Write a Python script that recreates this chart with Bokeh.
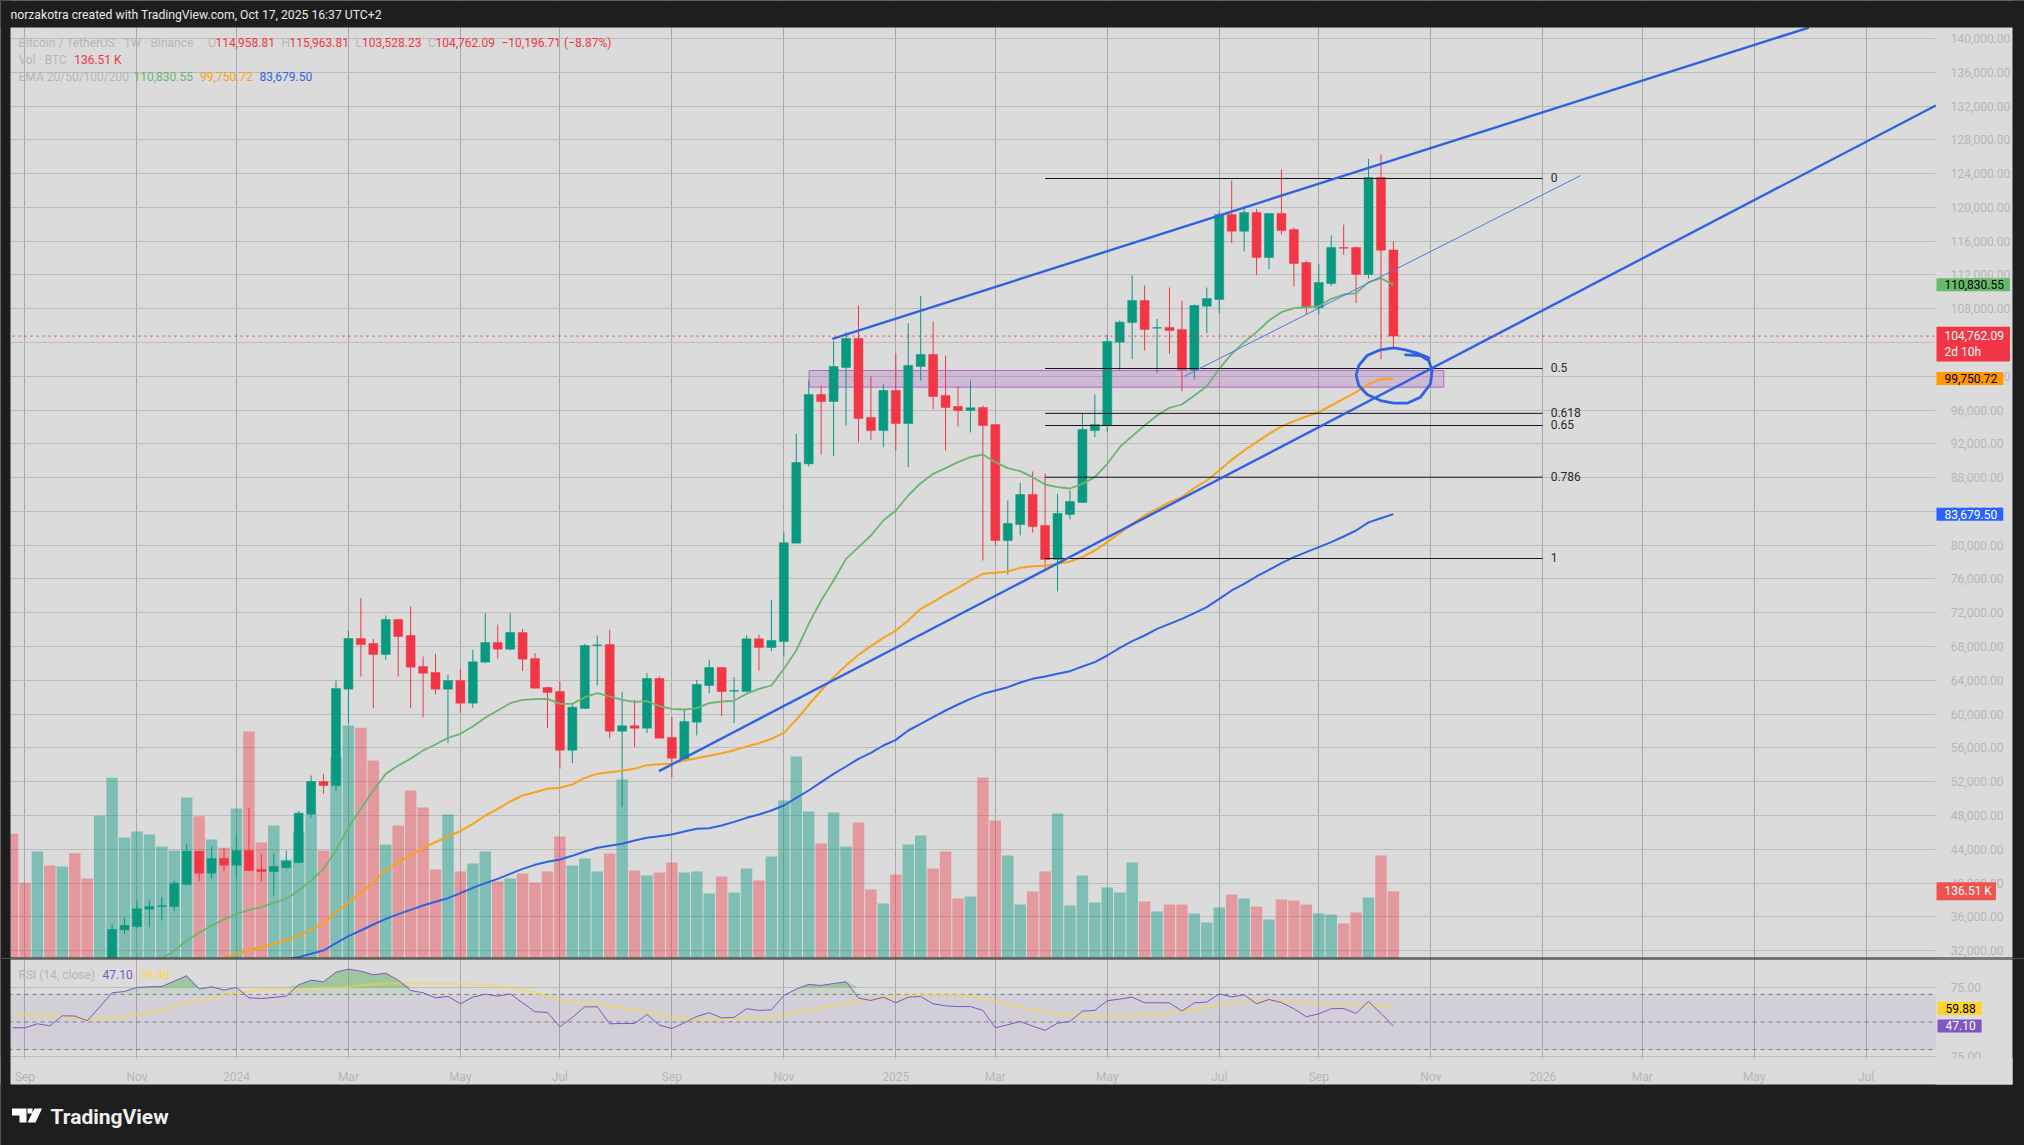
import numpy as np
from bokeh.core.properties import value
from bokeh.embed import file_html
from bokeh.layouts import column
from bokeh.models import (BoxAnnotation, FixedTicker, GlobalInlineStyleSheet, Label,
                          NumeralTickFormatter, PolyAnnotation, Range1d)
from bokeh.plotting import figure
from bokeh.resources import INLINE

# candles, bar index 8..111 (earlier bars are below the visible price range)
OPEN = [30000,34457,34852,36904,37220,37220,39825,43772,41167,42904,42114,43851,41601,41364,41838,42430,48114,52021,51548,62955,
        68954,68362,67059,71204,69309,65639,64928,62955,63981,61297,66152,68480,67691,69664,66586,63152,62678,55732,60665,68125,
        68244,57981,58613,58337,64218,57231,54705,59047,63389,65521,62718,62679,68915,67889,68599,80243,89637,97846,97018,101044,
        104477,95123,93584,98320,94413,101162,102583,97728,96426,95952,96307,94294,80559,82453,86005,82335,78309,83637,85058,93584,
        94176,104043,106371,108976,105700,105779,105543,100767,108305,109095,119160,117186,119396,114068,119278,117384,113476,108148,110989,115252,
        115252,112055,123541,114958.81]
HIGH = [35168,35878,37931,37931,38325,40220,44640,43772,44325,44167,45746,48903,43456,43456,43851,48509,52732,52929,63981,69901,
        73730,68915,71677,71204,72743,66823,67138,64691,65362,67612,71954,70612,71954,70099,67217,63270,63902,61139,68322,69309,
        69980,62639,61692,64849,64454,59639,60507,64060,66428,65521,64376,69310,69389,73533,81466,93189,99504,98912,104162,105227,
        108385,99978,99031,102741,106293,109500,106490,102464,98794,99504,96544,94294,85295,87387,88729,88492,86084,86479,95676,97846,
        104951,106608,111937,110753,106806,110516,108976,108503,110516,119515,123186,120146,119831,119278,124488,117620,113713,113319,116673,117976,
        115370,125751,126264,115963.81]
LOW = [29500,33984,34655,34773,35562,36668,39707,40220,40496,41404,40693,41404,40220,38523,41680,42351,47719,50561,50956,58929,
       64454,60705,66428,64454,60705,59639,62323,56560,60192,60744,66033,66586,67533,65086,63034,58337,53521,54192,60626,63389,
       57152,48982,56087,57745,57152,52534,54587,57469,62481,59758,58929,62600,65165,67455,66823,80243,89321,90742,90545,94176,
       92163,92479,91610,91215,89242,99504,96149,91215,94057,93347,78190,79967,76533,81151,81506,77204,74520,83045,85058,92794,
       93347,100688,102030,103056,100372,102661,98241,99661,105108,107477,115765,114778,111976,112687,116791,110674,107319,107319,110674,114423,
       108661,111581,102030,103528.23]
CLOSE = [34497,34970,36944,37220,37299,39983,43772,41167,42904,42114,43851,41483,41364,41957,42588,48272,52021,51548,63034,68954,
         68244,67059,71204,69191,65560,64849,62955,63981,61297,66191,68480,67691,69664,66507,63073,62560,55732,60823,68125,68204,
         57981,58613,58337,64218,57152,54784,59126,63508,65521,62679,62797,68915,67889,68718,80282,89795,97846,97018,101162,104477,
         95005,93584,98320,94413,101280,102583,97610,96307,95952,96268,94176,80559,82572,86005,82216,78309,83756,85177,93702,94294,
         104122,106411,108976,105543,105779,105424,100806,108384,109213,119160,117186,119396,114068,119278,117265,113358,108148,111108,115252,115173,
         112055,123541,114936,104762.09]

# volume in thousands of BTC, bar index 0..111
VOLUME = [252.8,153.4,217,188.6,186.6,213.6,162.2,289.3,366.4,245.4,257.6,251.5,227.1,219,326.5,288.7,241.3,224.4,304.2,460.4,
          235.2,269.7,200.1,257.6,290,219,408.3,472.5,467.8,401.5,231.2,269.7,340.7,306.2,180.5,292,176.4,192.7,217,156.1,
          162.2,172.4,154.1,176.4,247.4,188.6,202.8,176.4,212.9,363,178.5,168.3,174.4,194.7,174.4,176.4,131.8,166.3,133.8,182.5,
          158.2,206.8,320.4,409.7,298.1,233.2,296.1,227.1,275.8,139.9,111.5,170.3,231.2,249.4,182.5,217,121.7,125.7,367.1,279.9,
          208.9,109.5,135.9,176.4,294,107.5,168.3,113.6,144,133.8,194.7,115.6,95.3,109.5,109.5,91.3,73,103.4,129.8,121.7,
          105.4,79.1,119.6,117.6,109.5,91.3,89.2,71,93.3,123.7,208.9,136.51]
EARLY_VOLUME_UP = [0,0,1,0,1,0,0,1]  # direction of bars 0..7, whose candles are off the scale

# moving averages, each ending at bar 111
EMA20 = [31023,32000,33195,34100,34970,35700,36352,36800,37141,37650,38128,39100,40299,41680,43851,46615,48785,50956,52929,53916,
         54706,55692,56403,57192,57666,58534,59561,60429,61297,61692,61771,61810,61218,61218,62007,62481,62086,61692,61455,61534,
         60942,60626,60547,60705,61298,61494,61573,62404,62995,63389,65362,67533,70691,73454,75822,78388,79769,81151,82927,84113,
         85887,87348,88453,89123,89834,90426,90742,89834,89123,88768,88058,87189,86874,86716,87268,88058,89637,91610,92913,94176,
         95360,96268,96662,97728,98834,100885,102661,104043,105227,106608,107595,108068,108187,108305,109174,109687,109845,111148,111621,110830.55]
EMA50 = [31103,31616,32011,32405,32800,33194,33787,34457,35168,36549,37733,38800,40102,41483,42470,43260,44167,44838,45509,46141,
         47009,47995,48785,49654,50364,50759,51153,51272,51667,52455,52929,53127,53285,53521,53956,54074,54113,54508,54784,55060,
         55378,55733,56168,56561,57073,57785,59324,61100,62798,64376,65758,67020,68047,69033,69902,71086,72467,73257,74164,74954,
         75822,76612,76730,76888,77322,77520,77559,77795,78072,78585,79375,80361,81428,82532,83520,84308,85098,85690,86795,87663,
         88847,90110,91216,92202,93189,94057,94689,95241,95755,96544,97333,98122,99109,99662,99750.72]
EMA200 = [30985,31222,31616,32011,32877,33708,34378,35089,35760,36313,36826,37338,37773,38207,38800,39431,39983,40497,41088,41680,
          42154,42510,42786,43221,43734,44167,44404,44641,45035,45351,45549,45746,46101,46417,46496,46811,47245,47719,48114,48587,
          49179,50087,50956,51942,52929,53797,54705,55416,56284,56955,58060,58850,59639,60429,61139,61810,62403,62798,63192,63744,
          64177,64455,64771,65086,65639,66152,66942,67850,68639,69310,70098,70692,71284,71954,72664,73651,74639,75428,76297,77087,
          77876,78585,79178,79770,80361,81032,81743,82700,83200,83679.50]

# RSI and its moving average, bar index 0..111
RSI = [45.8,45.8,48.7,47.2,54.5,54.3,50.9,60.8,71.2,72.1,75,75.5,75.7,79.6,83.5,73.8,75.5,73.1,75,67.5,
       67,67.8,68.7,77,80.3,79.1,86.1,88.3,86.8,84.2,85.4,80.3,72.8,71.2,67.5,68.5,63.2,68,70.2,68.7,
       70.4,63.9,57.4,56.9,46.5,53.3,61,61,48.7,48.9,48.9,55.4,47.7,45.3,49.4,54,56.7,53,53.3,59.6,
       58.4,58.8,69.2,73.8,77.2,76.5,77.9,79.1,67.3,65.6,68,63.9,68,68.5,63.2,61.7,61.2,61.2,58.4,45.8,
       48,50.4,47,43.9,49.2,50.4,57.9,58.4,65.4,66.6,68,63.9,63.9,63.9,57.9,63.9,64.4,70.4,68.2,69.7,
       63.2,66.3,64.1,59.6,53.8,55.9,59.6,59.8,56.2,64.9,56.2,47.10]
RSI_MA = [56.4,55.4,55,54.7,54,53,51.6,52.3,53.3,54,55.4,57.1,58.8,61.7,64.1,65.6,67.3,69.2,71.2,72.3,
          73.3,73.6,73.6,73.8,74.3,74.8,75,75.5,76.5,77.4,77.9,78.1,78.1,78.1,78.1,78.1,78.1,77.4,77,76.2,
          75,72.8,71.2,68.7,65.6,64.1,63.7,63.2,61.7,60.3,58.8,57.4,55.4,53.8,52.6,51.8,51.8,52.1,52.3,52.8,
          53,53,54.5,56.9,58.8,60.3,61.7,63.7,65.1,66.8,67.5,68.5,69.2,69.7,69.7,69.7,69.5,68.7,67.5,65.1,
          63.2,60.8,58.8,57.4,56,54.7,54.3,54,54,54.5,54.7,55,55.4,56.4,57.9,59.3,60.8,62.5,63.4,64.4,
          65.1,65.6,65.1,64.9,63.9,63.4,62.9,62.5,62.5,62.5,61.7,59.88]

# drawings
FIB_LABELS = ["0", "0.5", "0.618", "0.65", "0.786", "1"]
FIB_PRICES = [123422, 100925, 95615, 94175, 88055, 78427]
FIB_BARS = [83, 123]
CHANNEL_TOP_X, CHANNEL_TOP_Y = [65.9, 144.4], [104440, 141300]
CHANNEL_LOW_X, CHANNEL_LOW_Y = [51.96, 154.6], [53245, 132067]
THIN_LINE_X, THIN_LINE_Y = [94.15, 126.05], [99977, 123778]
ZONE_BARS, ZONE_PRICES = [64.03, 115.05], [98715, 100688]
CIRCLE_X = [113.84,112.91,111.97,111.03,109.96,108.89,108.22,108.0,108.22,108.89,109.96,111.03,112.1,113.17,113.98,114.11,113.84,113.17,111.97]
CIRCLE_Y = [102188,102740,103135,103372,103135,102464,101280,100096,98911,97846,97135,96820,96820,97530,99109,100688,101872,102464,102543]

# axes
MONTH_BARS = [1, 10, 18, 27, 36, 44, 53, 62, 71, 79, 88, 97, 105, 114, 123, 131, 140, 149]
MONTH_LABELS = ["Sep", "Nov", "2024", "Mar", "May", "Jul", "Sep", "Nov", "2025", "Mar", "May", "Jul", "Sep", "Nov", "2026", "Mar", "May", "Jul"]
PRICE_TICKS = list(range(32000, 140001, 4000))
RSI_TICKS = [25, 75]
RSI_BANDS = [30, 50, 70]

DARK, PANEL = "#1e1e1e", "#dbdbdb"
FADED = "#b6b6b6"
UP, DOWN = "#089981", "#f23645"
GREEN, ORANGE, BLUE = "#6bb56f", "#f7a21b", "#2f62e3"
FONT = "Roboto"

X_START, SCALE_BAR = -0.969, 154.6   # left page edge and start of the price scale, in bars
x_range = Range1d(X_START, 161.73)


def strip(p, left, right, top, bottom, color, level):
    p.add_layout(BoxAnnotation(left=left, right=right, top=top, bottom=bottom, left_units="canvas", right_units="canvas",
                               top_units="canvas", bottom_units="canvas", fill_color=color, fill_alpha=1,
                               line_color=None, level=level))


def text(p, x, y, s, color, size="12px", font_style="normal"):
    p.add_layout(Label(x=x, y=y, x_units="canvas", y_units="canvas", text=s, text_color=color, text_font=FONT,
                       text_font_size=size, text_font_style=font_style, text_baseline="middle", text_align="left"))


def tag(p, val, s, fill, color, pad_right, y_offset=0, x=1936, range_name="default"):
    p.add_layout(Label(x=x, y=val, x_units="canvas", y_units="data", y_range_name=range_name, text=s, text_color=color,
                       text_font=FONT, text_font_size="12px", text_baseline="middle", text_align="left",
                       background_fill_color=fill, background_fill_alpha=1,
                       padding=dict(left=8, right=pad_right, top=2, bottom=2), y_offset=y_offset))


def base(p):
    p.background_fill_color = PANEL
    p.border_fill_color = DARK
    p.outline_line_color = None
    p.xgrid.ticker = FixedTicker(ticks=MONTH_BARS)
    p.xgrid.grid_line_color = "#a9a9a9"
    p.ygrid.grid_line_color = "#bcbcbc"


def style_axis(ax):
    ax.axis_line_color = None
    ax.major_tick_line_color = None
    ax.minor_tick_line_color = None
    ax.major_label_text_color = FADED
    ax.major_label_text_font = FONT
    ax.major_label_text_font_size = "12px"


main = figure(width=2024, height=958, x_range=x_range, y_range=Range1d(31063, 144500), output_backend="svg",
              toolbar_location=None, x_axis_location="below", y_axis_location="right",
              min_border_left=0, min_border_right=0, min_border_top=0, min_border_bottom=0,
              stylesheets=[GlobalInlineStyleSheet(css="html,body{background:#1e1e1e}")])
main.xaxis.visible = False
main.xaxis.fixed_location = 0
price_axis = main.yaxis[0]
price_axis.fixed_location = SCALE_BAR
price_axis.ticker = FixedTicker(ticks=PRICE_TICKS)
price_axis.formatter = NumeralTickFormatter(format="0,0.00")
price_axis.major_label_standoff = 9
style_axis(price_axis)
base(main)
main.ygrid.ticker = FixedTicker(ticks=PRICE_TICKS)
strip(main, 1935, 2012, 27, 958, PANEL, "underlay")

# volume
main.extra_y_ranges = {"volume": Range1d(0, 1942.8)}
bars = np.arange(len(VOLUME))
o, h, l, c = map(np.array, (OPEN, HIGH, LOW, CLOSE))
cx = np.arange(112 - len(OPEN), 112)
up = c >= o
vol_up = np.concatenate([np.array(EARLY_VOLUME_UP, dtype=bool), up])
main.vbar(bars[vol_up], width=0.92, top=np.array(VOLUME)[vol_up], bottom=0, y_range_name="volume",
          fill_color=UP, fill_alpha=0.44, line_color=None)
main.vbar(bars[~vol_up], width=0.92, top=np.array(VOLUME)[~vol_up], bottom=0, y_range_name="volume",
          fill_color=DOWN, fill_alpha=0.40, line_color=None)

# purple zone sits behind the candles
main.quad(left=[ZONE_BARS[0]], right=[ZONE_BARS[1]], bottom=[ZONE_PRICES[0]], top=[ZONE_PRICES[1]],
          fill_color="#9c27b0", fill_alpha=0.18, line_color="#b565c6", line_width=1)

# candles
for mask, col in ((up, UP), (~up, DOWN)):
    main.segment(cx[mask], h[mask], cx[mask], l[mask], line_color=col, line_width=1)
    main.vbar(cx[mask], width=0.72, top=np.maximum(o, c)[mask], bottom=np.minimum(o, c)[mask],
              fill_color=col, line_color=col, line_width=0.5)

# EMAs
for vals, col, w in ((EMA20, GREEN, 1.8), (EMA50, ORANGE, 2), (EMA200, BLUE, 2)):
    main.line(np.arange(112 - len(vals), 112), vals, line_color=col, line_width=w)

# fib levels
for price in FIB_PRICES:
    main.line(FIB_BARS, [price, price], line_color="#161616", line_width=1)
main.text([FIB_BARS[1]] * len(FIB_PRICES), FIB_PRICES, text=FIB_LABELS, x_offset=8, y_offset=-1, text_color="#2a2a2a",
          text_font=value(FONT), text_font_size="12px", text_baseline="middle")

# trend lines and circle
main.line(CHANNEL_TOP_X, CHANNEL_TOP_Y, line_color=BLUE, line_width=2.4)
main.line(CHANNEL_LOW_X, CHANNEL_LOW_Y, line_color=BLUE, line_width=2.4)
main.line(THIN_LINE_X, THIN_LINE_Y, line_color="#4f78dd", line_width=1)
main.line(CIRCLE_X, CIRCLE_Y, line_color=BLUE, line_width=2.8, line_join="round", line_cap="round")
main.line([X_START, SCALE_BAR], [CLOSE[-1], CLOSE[-1]], line_color=DOWN, line_dash="dotted", line_width=1)

# dark page frame around the chart panel
strip(main, 0, 2024, 0, 27, DARK, "annotation")
strip(main, 0, 10, 0, 958, DARK, "annotation")
strip(main, 2012, 2024, 0, 958, DARK, "annotation")
strip(main, 0, 2024, 957, 958, DARK, "annotation")

# header and legend
text(main, 10, 14.5, "norzakotra created with TradingView.com, Oct 17, 2025 16:37 UTC+2", "#e8e8e8", size="12.2px")
text(main, 18, 42, "Bitcoin / TetherUS · 1W · Binance", FADED)
for x, s, col in ((207.5, "O", FADED), (215, "114,958.81", DOWN), (281, "H", FADED), (289, "115,963.81", DOWN),
                  (355, "L", FADED), (361.5, "103,528.23", DOWN), (427.5, "C", FADED), (435, "104,762.09", DOWN),
                  (501, "−10,196.71 (−8.87%)", DOWN)):
    text(main, x, 42, s, col)
text(main, 18, 59, "Vol · BTC", FADED)
text(main, 73.7, 59, "136.51 K", DOWN)
text(main, 18, 76, "EMA 20/50/100/200", FADED)
text(main, 133, 76, "110,830.55", GREEN)
text(main, 199.6, 76, "99,750.72", ORANGE)
text(main, 259, 76, "83,679.50", BLUE)

# price tags
tag(main, 110830.55, "110,830.55", "#66bb6a", "#000000", 6)
tag(main, CLOSE[-1], "104,762.09\n2d 10h", DOWN, "#ffffff", 6, y_offset=-8)
tag(main, 99750.72, "99,750.72", "#ff9800", "#000000", 6)
tag(main, 83679.50, "83,679.50", "#2962ff", "#ffffff", 6)
tag(main, 136.51, "136.51 K", "#ef5350", "#ffffff", 4, range_name="volume")

# RSI pane
rsi = figure(width=2024, height=187, x_range=x_range, y_range=Range1d(-39.5, 96.01), output_backend="svg",
             toolbar_location=None, x_axis_location="below", y_axis_location="right",
             min_border_left=0, min_border_right=0, min_border_top=0, min_border_bottom=0)
rsi_axis = rsi.yaxis[0]
rsi_axis.fixed_location = SCALE_BAR
rsi_axis.ticker = FixedTicker(ticks=RSI_TICKS)
rsi_axis.formatter = NumeralTickFormatter(format="0.00")
rsi_axis.major_label_standoff = 9
style_axis(rsi_axis)
time_axis = rsi.xaxis[0]
time_axis.fixed_location = 23.55
time_axis.ticker = FixedTicker(ticks=MONTH_BARS)
time_axis.major_label_overrides = {b: s for b, s in zip(MONTH_BARS, MONTH_LABELS)}
time_axis.major_label_standoff = 6
style_axis(time_axis)
base(rsi)
rsi.ygrid.ticker = FixedTicker(ticks=RSI_TICKS)
strip(rsi, 1935, 2012, 0, 126, PANEL, "underlay")
strip(rsi, 0, 2012, 100, 126, PANEL, "underlay")

rsi.quad(left=[X_START], right=[SCALE_BAR], bottom=[RSI_BANDS[0]], top=[RSI_BANDS[2]], fill_color="#7e57c2", fill_alpha=0.09, line_color=None)
for b in RSI_BANDS:
    rsi.line([X_START, SCALE_BAR], [b, b], line_color="#787b86", line_dash=[4, 4], line_width=1)
rx = np.arange(len(RSI))
rsi_arr = np.array(RSI)
rsi.varea(rx, 70, np.maximum(rsi_arr, 70), fill_color="#4caf50", fill_alpha=0.12)
rsi.varea(rx, 75, np.maximum(rsi_arr, 75), fill_color="#4caf50", fill_alpha=0.35)
rsi.line(rx, RSI_MA, line_color="#fdd835", line_alpha=0.45, line_width=2.5)
rsi.line(rx, RSI, line_color="#7e57c2", line_width=1)

strip(rsi, 0, 2024, 0, 1, DARK, "annotation")
strip(rsi, 0, 10, 0, 187, DARK, "annotation")
strip(rsi, 2012, 2024, 0, 187, DARK, "annotation")
strip(rsi, 0, 2024, 126, 187, DARK, "annotation")
strip(rsi, 1935, 2012, 100, 126, PANEL, "annotation")   # the scale's lower label is cut off by the time axis

text(rsi, 18, 16, "RSI (14, close)", FADED)
text(rsi, 102, 16, "47.10", "#7e57c2")
text(rsi, 139, 16, "59.88", "#ffd54f")
tag(rsi, 59.88, "59.88", "#ffd22e", "#000000", 6, x=1937)
tag(rsi, 47.10, "47.10", "#7e57c2", "#ffffff", 6, x=1937)

# footer
for xs, ys in (([11.5, 26, 26, 19, 19, 11.5], [150, 150, 164, 164, 157, 157]),
               ([34, 41.5, 35, 27], [150, 150, 164, 164]),
               ([27, 32, 32, 27], [150, 150, 155, 155])):
    rsi.add_layout(PolyAnnotation(xs=xs, ys=ys, xs_units="canvas", ys_units="canvas", fill_color="#ffffff",
                                  fill_alpha=1, line_color=None))
text(rsi, 50, 158, "TradingView", "#f0f0f0", size="21px", font_style="bold")

page = column(main, rsi, spacing=0)
open("out.html", "w").write(file_html(page, INLINE))
